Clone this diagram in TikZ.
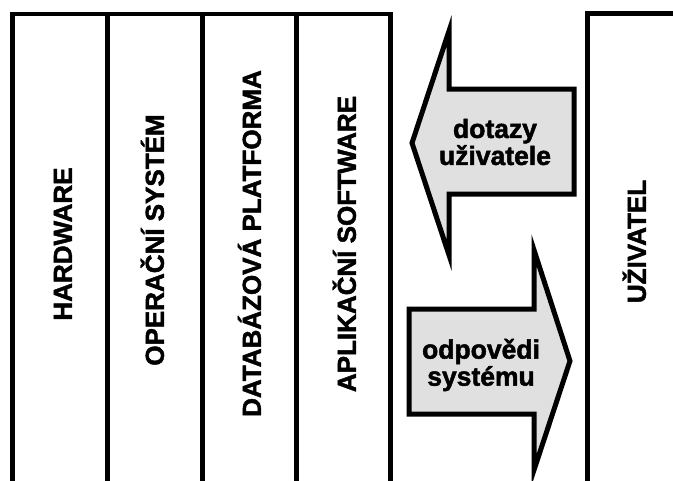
\documentclass[tikz,border=0pt]{standalone}
\usepackage{fontspec}
\setmainfont{Liberation Sans}
\newfontfamily\heavyfont{Liberation Sans Bold}[FakeBold=1.8]
\definecolor{arrowgray}{gray}{0.88}
\begin{document}
\begin{tikzpicture}[x=1pt,y=-1pt,line join=miter,
  frame/.style={line width=4.6pt},
  arrowshape/.style={draw=black,fill=arrowgray,line width=5pt,line join=miter},
  collabel/.style={rotate=90,font=\heavyfont\fontsize{26}{27}\selectfont,text height=18.6pt,text depth=0pt,inner sep=0pt},
  arrowlabel/.style={align=center,font=\heavyfont\fontsize{26.5}{27}\selectfont,inner sep=0pt}]
\useasboundingbox[fill=white] (0,0) rectangle (673,480);
% left stack of layers
\draw[frame] (12.5,495) -- (12.5,14) -- (390.7,14) -- (390.7,495);
\draw[frame] (107.7,14) -- (107.7,495);
\draw[frame] (202.7,14) -- (202.7,495);
\draw[frame] (296.7,14) -- (296.7,495);
% user box
\draw[frame] (587.5,495) -- (587.5,13.5) -- (690,13.5);
% arrows
\draw[arrowshape] (412,143) -- (449,31) -- (449,89) -- (574,89) -- (574,194) -- (449,194) -- (449,255) -- cycle;
\draw[arrowshape] (570,361) -- (534,250) -- (534,309) -- (409,309) -- (409,414) -- (534,414) -- (534,470) -- cycle;
% labels
\node[collabel] (hw) at (62.5,244) {HARDWARE};
\node[collabel] (os) at (154.5,240) {OPERAČNÍ SYSTÉM};
\node[collabel] (db) at (251.5,243.5) {DATABÁZOVÁ PLATFORMA};
\node[collabel] (app) at (346.5,244) {APLIKAČNÍ SOFTWARE};
\node[collabel] (user) at (636.5,241.5) {UŽIVATEL};
\node[arrowlabel] (query) at (495,142) {dotazy\\uživatele};
\node[arrowlabel] (answer) at (481,365) {odpovědi\\systému};
\end{tikzpicture}
\end{document}
